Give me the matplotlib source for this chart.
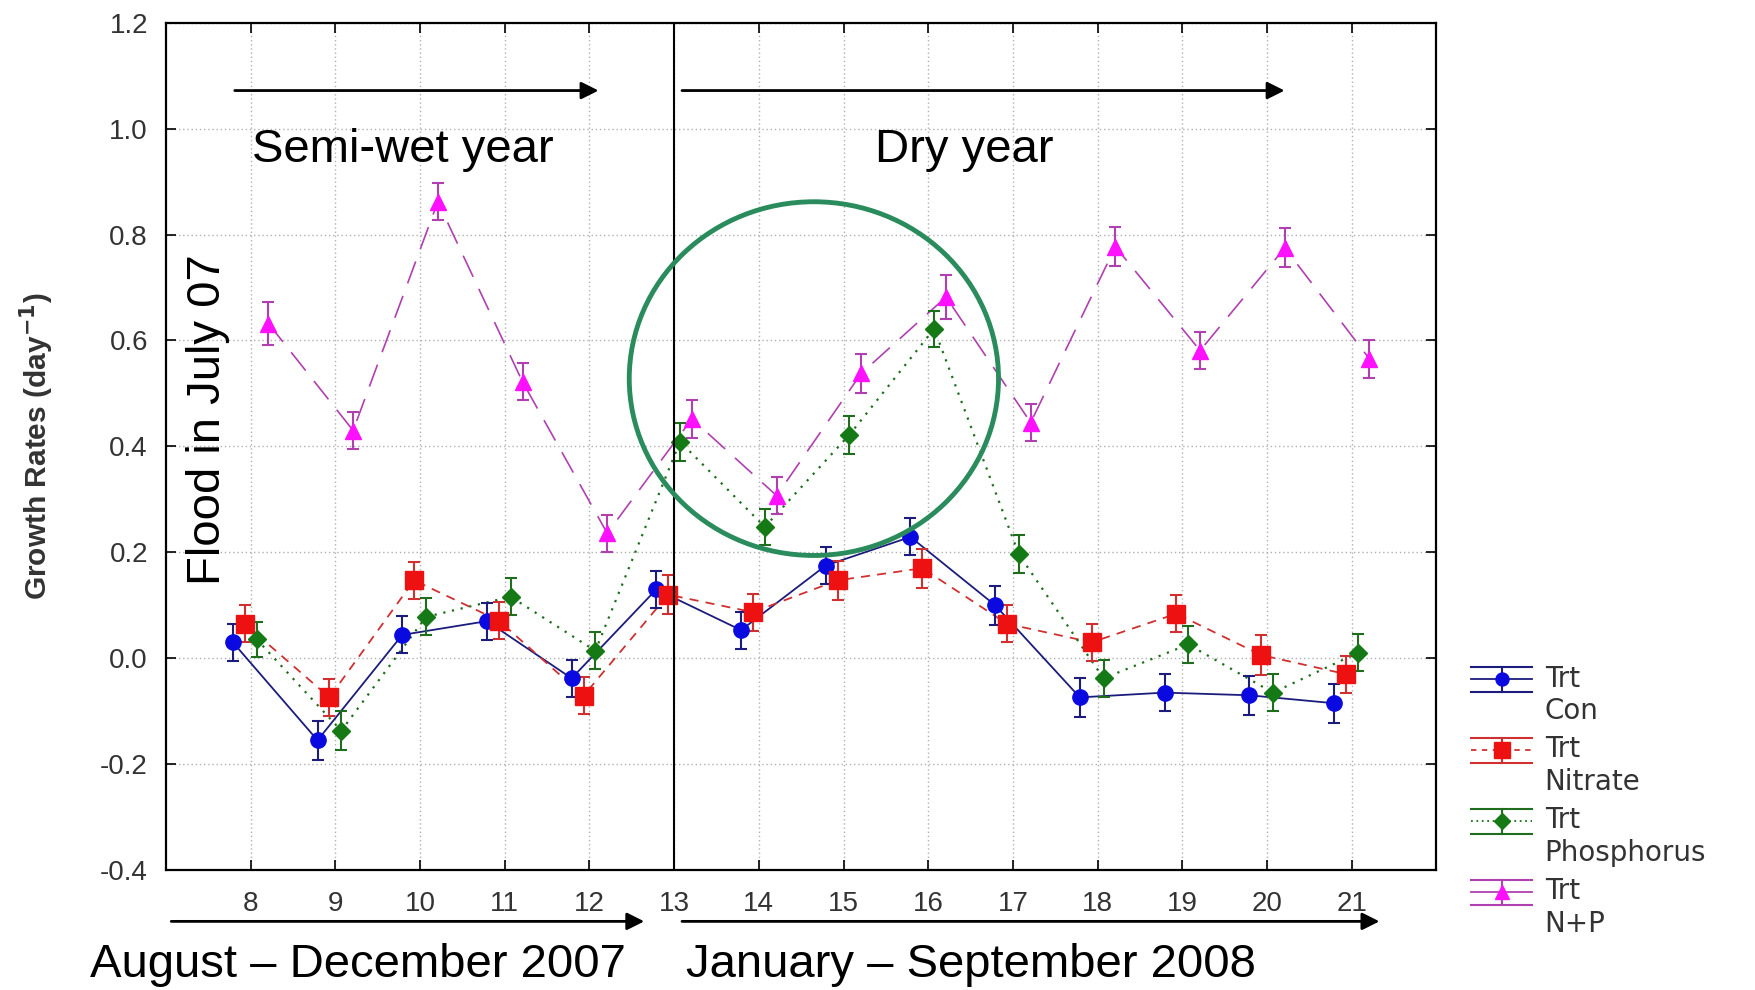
import numpy as np
import matplotlib
matplotlib.use("Agg")
import matplotlib.pyplot as plt
from matplotlib.patches import Ellipse
from matplotlib.lines import Line2D
from matplotlib.legend_handler import HandlerBase

plt.rcParams["font.family"] = ["Liberation Sans", "DejaVu Sans"]

# ==========================================
# DATA
# ==========================================

months = [8, 9, 10, 11, 12, 13, 14, 15, 16, 17, 18, 19, 20, 21]
tick_labels = [str(m) for m in months]

con = [0.03, -0.155, 0.044, 0.07, -0.038, 0.13, 0.053, 0.175, 0.229, 0.10, -0.074, -0.065, -0.07, -0.085]
nitrate = [0.065, -0.074, 0.147, 0.071, -0.071, 0.12, 0.087, 0.147, 0.17, 0.065, 0.03, 0.084, 0.006, -0.03]
phosphorus = [0.036, -0.137, 0.078, 0.116, 0.014, 0.409, 0.248, 0.422, 0.622, 0.196, -0.038, 0.026, -0.065, 0.01]
np_trt = [0.632, 0.43, 0.862, 0.522, 0.236, 0.452, 0.307, 0.538, 0.682, 0.445, 0.777, 0.581, 0.775, 0.565]

con_err = [0.035, 0.037, 0.035, 0.035, 0.035, 0.035, 0.035, 0.035, 0.035, 0.037, 0.037, 0.035, 0.037, 0.037]
nitrate_err = [0.035, 0.035, 0.035, 0.035, 0.035, 0.037, 0.035, 0.037, 0.037, 0.035, 0.035, 0.035, 0.037, 0.035]
phos_err = [0.033, 0.037, 0.035, 0.035, 0.035, 0.036, 0.034, 0.036, 0.034, 0.036, 0.035, 0.035, 0.035, 0.035]
np_err = [0.04, 0.035, 0.035, 0.035, 0.035, 0.036, 0.035, 0.037, 0.041, 0.035, 0.037, 0.035, 0.037, 0.035]

labels = ["Trt\nCon", "Trt\nNitrate", "Trt\nPhosphorus", "Trt\nN+P"]


# legend handle: horizontal caps above and below, line + marker in middle
class ErrHandler(HandlerBase):
    def __init__(self, mcol, lcol, ls, marker, ms):
        super().__init__()
        self.mcol = mcol
        self.lcol = lcol
        self.ls = ls
        self.marker = marker
        self.ms = ms

    def create_artists(self, legend, orig_handle, xdescent, ydescent,
                       width, height, fontsize, trans):
        x0 = -xdescent
        x1 = x0 + width
        xc = (x0 + x1) / 2
        cy = height / 2 - ydescent + 0.6 * fontsize
        half = 0.45 * fontsize
        arts = [
            Line2D([x0, x1], [cy + half, cy + half], color=self.lcol, lw=1.5),
            Line2D([x0, x1], [cy - half, cy - half], color=self.lcol, lw=1.5),
            Line2D([x0, x1], [cy, cy], color=self.lcol, lw=1.3, linestyle=self.ls),
            Line2D([xc, xc], [cy - half, cy + half], color=self.lcol, lw=1.5),
            Line2D([xc], [cy], marker=self.marker, markersize=self.ms * 0.85,
                   color=self.mcol, linestyle="none"),
        ]
        for a in arts:
            a.set_transform(trans)
        return arts


# ==========================================
# FIGURE
# ==========================================

fig = plt.figure(figsize=(17.56, 9.9), dpi=100)
ax = fig.add_axes([0.0945, 0.1212, 0.7235, 0.8558])

x = np.array(months, dtype=float)

series = [
    (con, con_err, -0.21, "o", 11, "#0a0ae0", "#1c1c7c", "-", 1.3, "-"),
    (nitrate, nitrate_err, -0.07, "s", 13, "#ee1111", "#d03030", (0, (5, 4)), 1.3, (0, (3, 3))),
    (phosphorus, phos_err, 0.07, "D", 9, "#157a15", "#1e6e1e", (0, (1, 3)), 1.6, (0, (1, 2))),
    (np_trt, np_err, 0.21, "^", 12, "#ff10ff", "#b040b0", (0, (14, 8)), 1.2, "-"),
]

handles = []
hmap = {}
for vals, err, off, mk, ms, mcol, lcol, ls, lw, leg_ls in series:
    ax.errorbar(
        x + off, vals, yerr=err,
        fmt=mk, markersize=ms,
        color=mcol, mec=mcol,
        ecolor=lcol, elinewidth=1.5,
        capsize=4, capthick=1.5,
        zorder=4
    )
    ax.plot(x + off, vals, linestyle=ls, color=lcol, linewidth=lw, zorder=3)
    dummy = Line2D([], [])
    handles.append(dummy)
    hmap[dummy] = ErrHandler(mcol, lcol, leg_ls, mk, ms)

ax.set_xlim(7, 22)
ax.set_ylim(-0.4, 1.2)
ax.set_xticks(months)
ax.set_xticklabels(tick_labels)
yt = np.arange(-0.4, 1.21, 0.2)
ax.set_yticks(yt)
ax.set_yticklabels([f"{v:.1f}" for v in yt])

ax.grid(True, linestyle=(0, (1, 2)), color="#b0b0b0", linewidth=1)
ax.tick_params(direction="in", length=7, width=1.2, top=True, right=True,
               labelsize=20, labelcolor="#333333")
ax.tick_params(axis="x", pad=15)
ax.tick_params(axis="y", pad=13)
for s in ax.spines.values():
    s.set_linewidth(1.6)

# vertical separator at month 13
ax.axvline(13, color="black", linewidth=1.5, zorder=5)

# ==========================================
# ANNOTATIONS
# ==========================================

arrow = dict(arrowstyle="-|>", color="black", lw=2, mutation_scale=26)
ax.annotate("", xy=(12.14, 1.072), xytext=(7.78, 1.072), arrowprops=arrow)
ax.annotate("", xy=(20.24, 1.072), xytext=(13.06, 1.072), arrowprops=arrow)
ax.annotate("", xy=(12.68, -0.497), xytext=(7.03, -0.497),
            arrowprops=arrow, annotation_clip=False)
ax.annotate("", xy=(21.36, -0.497), xytext=(13.06, -0.497),
            arrowprops=arrow, annotation_clip=False)

ax.text(9.8, 0.96, "Semi-wet year", fontsize=34, ha="center", va="center")
ax.text(16.43, 0.96, "Dry year", fontsize=34, ha="center", va="center")
ax.text(7.5, 0.45, "Flood in July 07", fontsize=34, rotation=90,
        ha="center", va="center")

ax.text(9.27, -0.579, "August \u2013 December 2007", fontsize=34,
        ha="center", va="center", clip_on=False)
ax.text(16.5, -0.579, "January \u2013 September 2008", fontsize=34,
        ha="center", va="center", clip_on=False)

ax.text(-0.1015, 0.5, "Growth Rates (day$^{\\mathbf{-1}}$)", transform=ax.transAxes,
        fontsize=21.5, fontweight="bold", color="#333333",
        rotation=90, ha="center", va="center")

circ = Ellipse((14.65, 0.528), width=4.36, height=0.668, fill=False,
               edgecolor="#2a8c5c", linewidth=3.5, zorder=6)
ax.add_patch(circ)

leg = fig.legend(handles, labels, handler_map=hmap, loc="upper left",
                 bbox_to_anchor=(0.8235, 0.354), frameon=False,
                 prop={"family": "DejaVu Sans", "size": 20},
                 handlelength=2.2, handletextpad=0.45, labelspacing=0.38,
                 labelcolor="#333333")

fig.savefig("out.png", dpi=100)
